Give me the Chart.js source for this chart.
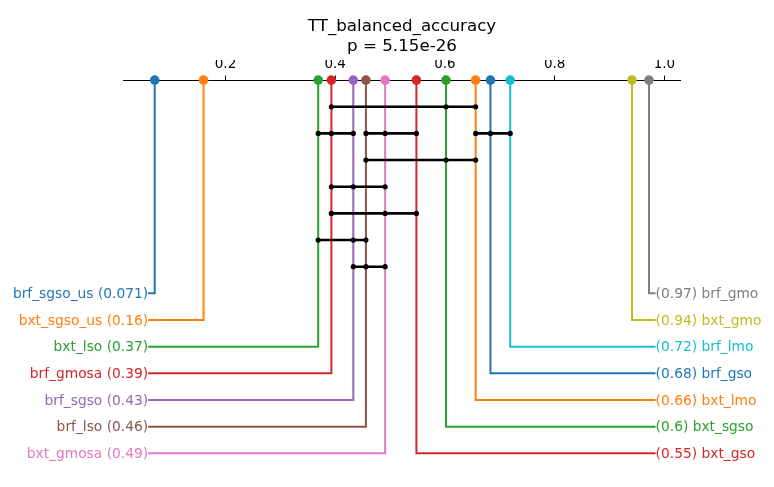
<!DOCTYPE html>
<html>
<head>
<meta charset="utf-8">
<title>TT_balanced_accuracy</title>
<script src="https://cdn.jsdelivr.net/npm/chart.js@4.4.0/dist/chart.umd.min.js"></script>
<style>
  html, body { margin: 0; padding: 0; background: #fff; }
  #wrap { width: 774px; height: 487px; position: relative; }
</style>
</head>
<body>
<div id="wrap"><canvas id="cd"></canvas></div>
<script>
// average scores per method, ascending
const methods = ['brf_sgso_us', 'bxt_sgso_us', 'bxt_lso', 'brf_gmosa', 'brf_sgso', 'brf_lso', 'bxt_gmosa',
                 'bxt_gso', 'bxt_sgso', 'bxt_lmo', 'brf_gso', 'brf_lmo', 'bxt_gmo', 'brf_gmo'];
const scores = [0.071, 0.16, 0.369, 0.393, 0.433, 0.456, 0.491,
                0.548, 0.602, 0.656, 0.683, 0.719, 0.941, 0.972];
const colors = ['#1f77b4', '#ff7f0e', '#2ca02c', '#d62728', '#9467bd', '#8c564b', '#e377c2',
                '#d62728', '#2ca02c', '#ff7f0e', '#1f77b4', '#17becf', '#bcbd22', '#7f7f7f'];

// groups with no significant difference, and the row each bar sits on
const cliques = [
  ['brf_gmosa', 'bxt_sgso', 'bxt_lmo'],
  ['bxt_lso', 'brf_gmosa', 'brf_sgso'],
  ['brf_lso', 'bxt_gmosa', 'bxt_gso'],
  ['bxt_lmo', 'brf_gso', 'brf_lmo'],
  ['brf_lso', 'bxt_sgso', 'bxt_lmo'],
  ['brf_gmosa', 'brf_sgso', 'bxt_gmosa'],
  ['brf_gmosa', 'bxt_gmosa', 'bxt_gso'],
  ['bxt_lso', 'brf_sgso', 'brf_lso'],
  ['brf_sgso', 'brf_lso', 'bxt_gmosa']
];
const cliqueRows = [1, 2, 2, 2, 3, 4, 5, 6, 7];

const tickValues = [0.2, 0.4, 0.6, 0.8, 1.0];
const tickLabels = ['0.2', '0.4', '0.6', '0.8', '1.0'];
const titleLines = ['TT_balanced_accuracy', 'p = 5.15e-26'];

const FONT = 'DejaVu Sans';
const elbowPad = 0.012;   // how far elbows run past the outermost point
const half = methods.length / 2;
const scoreOf = name => scores[methods.indexOf(name)];
const fmt = v => String(Number(v.toPrecision(2)));

// left half: lowest first, right half: highest first
const sideInfo = methods.map((m, i) => {
  if (i < half) return { side: 'left', row: 8 + i };
  return { side: 'right', row: 8 + (methods.length - 1 - i) };
});
const leftEdge = Math.min(...scores) - elbowPad;
const rightEdge = Math.max(...scores) + elbowPad;

const datasets = [];

// markers on the axis
datasets.push({
  type: 'scatter',
  data: scores.map(v => ({ x: v, y: 0 })),
  pointRadius: 4.8,
  pointBackgroundColor: colors,
  pointBorderWidth: 0,
  clip: false
});

// clique bars
cliques.forEach((members, k) => {
  datasets.push({
    type: 'line',
    data: members.map(m => ({ x: scoreOf(m), y: cliqueRows[k] })),
    borderColor: '#000',
    borderWidth: 2.6,
    pointRadius: 2.6,
    pointBackgroundColor: '#000',
    pointBorderWidth: 0,
    clip: false
  });
});

// elbows from axis to labels
methods.forEach((m, i) => {
  const s = sideInfo[i];
  const edge = s.side === 'left' ? leftEdge : rightEdge;
  datasets.push({
    type: 'line',
    data: [{ x: scores[i], y: 0 }, { x: scores[i], y: s.row }, { x: edge, y: s.row }],
    borderColor: colors[i],
    borderWidth: 2,
    pointRadius: 0,
    borderJoinStyle: 'miter',
    clip: false
  });
});

const labelPlugin = {
  id: 'cdLabels',
  afterDatasetsDraw(chart) {
    const ctx = chart.ctx, xs = chart.scales.x, ys = chart.scales.y;
    ctx.save();
    ctx.font = '13.8px "' + FONT + '"';
    ctx.textBaseline = 'middle';
    methods.forEach((m, i) => {
      const s = sideInfo[i];
      const y = ys.getPixelForValue(s.row);
      ctx.fillStyle = colors[i];
      if (s.side === 'left') {
        ctx.textAlign = 'right';
        ctx.fillText(m + ' (' + fmt(scores[i]) + ')', xs.getPixelForValue(leftEdge), y + 1);
      } else {
        ctx.textAlign = 'left';
        ctx.fillText('(' + fmt(scores[i]) + ') ' + m, xs.getPixelForValue(rightEdge), y + 1);
      }
    });
    ctx.restore();
  }
};

new Chart(document.getElementById('cd'), {
  data: { datasets },
  plugins: [labelPlugin],
  options: {
    responsive: true,
    maintainAspectRatio: false,
    animation: false,
    layout: { padding: { left: 124, right: 94, top: 0, bottom: 7 } },
    plugins: {
      legend: { display: false },
      tooltip: { enabled: false },
      title: {
        display: true,
        text: titleLines,
        color: '#000',
        font: { family: FONT, size: 16.7, weight: 'normal', lineHeight: 1.2 },
        padding: { top: 17, bottom: 3 }
      }
    },
    scales: {
      x: {
        type: 'linear',
        position: 'top',
        min: 0.015,
        max: 1.0285,
        afterBuildTicks: scale => { scale.ticks = tickValues.map(v => ({ value: v })); },
        afterFit: scale => { scale.height = 20; },
        ticks: {
          color: '#000',
          font: { family: FONT, size: 13.5 },
          padding: 3,
          maxRotation: 0,
          callback: v => tickLabels[tickValues.indexOf(v)]
        },
        grid: { drawOnChartArea: false, drawTicks: true, tickLength: 4.5, color: '#000', lineWidth: 1 },
        border: { display: true, color: '#000', width: 1.1 }
      },
      y: {
        type: 'linear',
        display: false,
        reverse: true,
        min: 0,
        max: 15
      }
    }
  }
});
</script>
</body>
</html>
